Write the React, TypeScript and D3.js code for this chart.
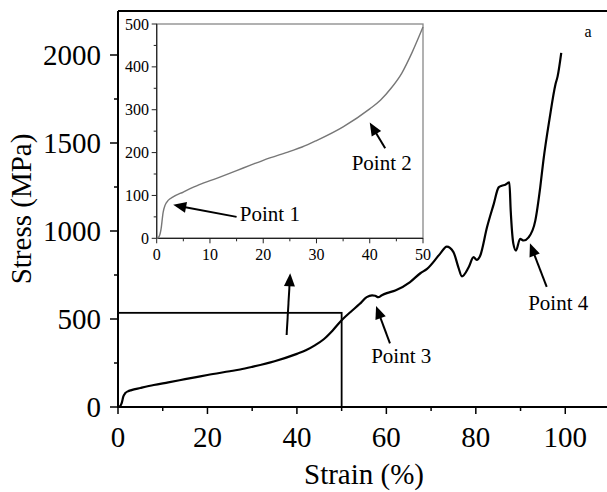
import React from "react";
import * as d3 from "d3";

const strain = [0, 0.4, 0.8, 1.2, 1.6, 2.2, 3, 5, 8, 11.25, 15, 17.5, 20, 25, 27.3, 30, 35, 40, 42, 44, 46, 48, 50, 52, 54, 55.6, 56.8, 57.5, 58.2, 59, 60.1, 62, 65.3, 67.6, 69.1, 72, 73.5, 75, 76.1, 76.9, 78.4, 79.5, 80.2, 81, 82.5, 84, 85.1, 85.8, 86.6, 87.5, 87.8, 88.4, 88.97, 89.9, 90.7, 91.8, 93.3, 94.4, 95.1, 96.5, 97.8, 98.3, 99.1];
const stress = [0, 3, 20, 60, 78, 89, 96, 108, 125, 140, 158, 170, 182, 203, 213, 228, 260, 302, 322, 350, 385, 435, 493, 540, 585, 624, 634, 632, 624, 635, 647, 662, 710, 760, 785, 870, 911, 880, 794, 742, 794, 851, 836, 861, 1021, 1153, 1248, 1257, 1263, 1276, 1116, 927, 889, 955, 946, 964, 1059, 1248, 1399, 1640, 1833, 1880, 2012];

const xTicks = [0, 20, 40, 60, 80, 100];
const xMinor = [10, 30, 50, 70, 90];
const yTicks = [0, 500, 1000, 1500, 2000];
const yMinor = [250, 750, 1250, 1750];
const insetXTicks = [0, 10, 20, 30, 40, 50];
const insetXMinor = [5, 15, 25, 35, 45];
const insetYTicks = [0, 100, 200, 300, 400, 500];
const insetYMinor = [50, 150, 250, 350, 450];
const zoomBox = { x0: 0, x1: 50, y0: 0, y1: 535 };

// annotations in data units
const mainArrows = [
  { tail: [37.7, 409], tip: [38.5, 760] },
  { tail: [60.8, 362], tip: [57.7, 574] },
  { tail: [95.85, 683], tip: [92.1, 930] },
];
const mainLabels = [
  { text: "Point 3", at: [56.6, 250] },
  { text: "Point 4", at: [91.7, 551] },
];
const insetArrows = [
  { tail: [15.0, 50], tip: [3.1, 78] },
  { tail: [42.9, 210], tip: [40.0, 270] },
];
const insetLabels = [
  { text: "Point 1", at: [15.6, 40] },
  { text: "Point 2", at: [36.6, 159] },
];

function Arrow({ x1, y1, x2, y2 }: { x1: number; y1: number; x2: number; y2: number }) {
  const dx = x2 - x1, dy = y2 - y1;
  const len = Math.hypot(dx, dy);
  const ux = dx / len, uy = dy / len;
  const hl = 13, hw = 5.5;
  const bx = x2 - ux * hl, by = y2 - uy * hl;
  const px = -uy, py = ux;
  return (
    <g>
      <line x1={x1} y1={y1} x2={bx + ux * 2} y2={by + uy * 2} stroke="#000" strokeWidth={2} />
      <path d={`M${x2},${y2}L${bx + px * hw},${by + py * hw}L${bx - px * hw},${by - py * hw}Z`} fill="#000" />
    </g>
  );
}

export default function App() {
  const x = d3.scaleLinear().domain([0, 110]).range([118, 610]);
  const y = d3.scaleLinear().domain([0, 2250]).range([407, 11]);
  const ix = d3.scaleLinear().domain([0, 50]).range([156.7, 423]);
  const iy = d3.scaleLinear().domain([0, 500]).range([238.3, 24]);

  const pts = strain.map((s, i) => [s, stress[i]] as [number, number]);
  const mainLine = d3.line<[number, number]>().x(d => x(d[0])).y(d => y(d[1])).curve(d3.curveMonotoneX);
  const insetPts = pts.filter(d => d[0] <= 50);
  const insetLine = d3.line<[number, number]>().x(d => ix(d[0])).y(d => iy(d[1])).curve(d3.curveMonotoneX);

  return (
    <svg width={607} height={492} style={{ display: "block", position: "absolute", left: 0, top: 0 }}>
      <style>{`text { font-family: "Liberation Serif" !important; }`}</style>
      <rect width={607} height={492} fill="#fff" />
      <line x1={x(0)} x2={610} y1={y(2250)} y2={y(2250)} stroke="#000" strokeWidth={2} />
      <line x1={x(0)} x2={x(0)} y1={y(0)} y2={y(2250)} stroke="#000" strokeWidth={2} />
      <line x1={x(0) - 1} x2={610} y1={y(0)} y2={y(0)} stroke="#000" strokeWidth={2} />
      {xTicks.map(t => (
        <g key={"xt" + t}>
          <line x1={x(t)} x2={x(t)} y1={y(0)} y2={y(0) + 7} stroke="#000" strokeWidth={1.5} />
          <text x={x(t)} y={447} fontSize={29} textAnchor="middle">{t}</text>
        </g>
      ))}
      {xMinor.map(t => (
        <line key={"xm" + t} x1={x(t)} x2={x(t)} y1={y(0)} y2={y(0) + 4} stroke="#000" strokeWidth={1.5} />
      ))}
      {yTicks.map(t => (
        <g key={"yt" + t}>
          <line x1={x(0) - 8} x2={x(0)} y1={y(t)} y2={y(t)} stroke="#000" strokeWidth={1.5} />
          <text x={101} y={y(t)} dy="0.34em" fontSize={29} textAnchor="end">{t}</text>
        </g>
      ))}
      {yMinor.map(t => (
        <line key={"ym" + t} x1={x(0) - 4} x2={x(0)} y1={y(t)} y2={y(t)} stroke="#000" strokeWidth={1.5} />
      ))}
      <text x={364} y={484} fontSize={29} textAnchor="middle">Strain (%)</text>
      <text transform={`translate(31,${(y(0) + y(2250)) / 2}) rotate(-90)`} fontSize={29} textAnchor="middle">Stress (MPa)</text>
      <text x={588} y={37} fontSize={16} textAnchor="middle">a</text>

      <rect x={x(zoomBox.x0)} y={y(zoomBox.y1)} width={x(zoomBox.x1) - x(zoomBox.x0)} height={y(zoomBox.y0) - y(zoomBox.y1)} fill="none" stroke="#000" strokeWidth={1.8} />

      <path d={mainLine(pts) || ""} fill="none" stroke="#000" strokeWidth={2.2} strokeLinejoin="round" />

      {mainArrows.map((a, i) => (
        <Arrow key={"ma" + i} x1={x(a.tail[0])} y1={y(a.tail[1])} x2={x(a.tip[0])} y2={y(a.tip[1])} />
      ))}
      {mainLabels.map((l, i) => (
        <text key={"ml" + i} x={x(l.at[0])} y={y(l.at[1])} fontSize={21}>{l.text}</text>
      ))}

      <rect x={ix(0)} y={iy(500)} width={ix(50) - ix(0)} height={iy(0) - iy(500)} fill="#fff" stroke="#888" strokeWidth={1.3} />
      <line x1={ix(0)} x2={ix(0)} y1={iy(0)} y2={iy(500)} stroke="#222" strokeWidth={1.2} />
      <line x1={ix(0)} x2={ix(50)} y1={iy(0)} y2={iy(0)} stroke="#222" strokeWidth={1.2} />
      {insetXTicks.map(t => (
        <g key={"ixt" + t}>
          <line x1={ix(t)} x2={ix(t)} y1={iy(0)} y2={iy(0) + 5} stroke="#222" strokeWidth={1} />
          <text x={ix(t)} y={260} fontSize={16} textAnchor="middle">{t}</text>
        </g>
      ))}
      {insetXMinor.map(t => (
        <line key={"ixm" + t} x1={ix(t)} x2={ix(t)} y1={iy(0)} y2={iy(0) + 3} stroke="#222" strokeWidth={1} />
      ))}
      {insetYTicks.map(t => (
        <g key={"iyt" + t}>
          <line x1={ix(0) - 5} x2={ix(0)} y1={iy(t)} y2={iy(t)} stroke="#222" strokeWidth={1} />
          <text x={149} y={iy(t)} dy="0.35em" fontSize={16} textAnchor="end">{t}</text>
        </g>
      ))}
      {insetYMinor.map(t => (
        <line key={"iym" + t} x1={ix(0) - 3} x2={ix(0)} y1={iy(t)} y2={iy(t)} stroke="#222" strokeWidth={1} />
      ))}
      <path d={insetLine(insetPts) || ""} fill="none" stroke="#777" strokeWidth={1.4} />
      {insetArrows.map((a, i) => (
        <Arrow key={"ia" + i} x1={ix(a.tail[0])} y1={iy(a.tail[1])} x2={ix(a.tip[0])} y2={iy(a.tip[1])} />
      ))}
      {insetLabels.map((l, i) => (
        <text key={"il" + i} x={ix(l.at[0])} y={iy(l.at[1])} fontSize={21}>{l.text}</text>
      ))}
    </svg>
  );
}
